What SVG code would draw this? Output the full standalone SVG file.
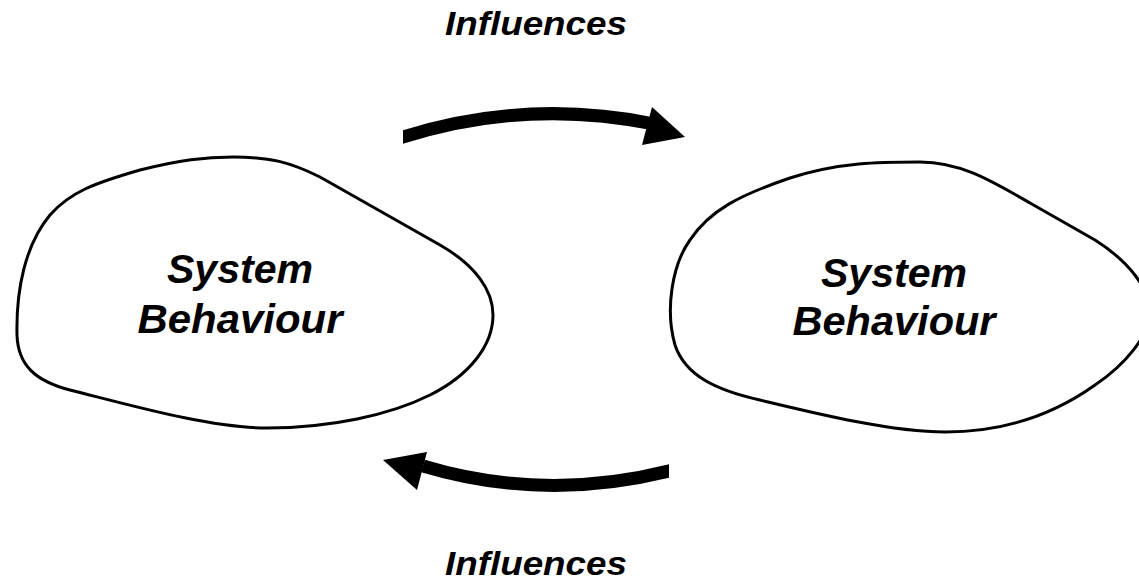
<svg xmlns="http://www.w3.org/2000/svg" width="1139" height="586" viewBox="0 0 1139 586">
  <style>
    .blob { fill: #ffffff; stroke: #000000; stroke-width: 3; stroke-linejoin: round; }
    .label { font-family: "Liberation Sans", Arial, sans-serif; font-weight: bold; font-style: italic; fill: #000000; text-anchor: middle; }
    .node-label { font-size: 41px; }
    .edge-label { font-size: 33px; }
    .shaft { fill: none; stroke: #000000; stroke-width: 13; }
    .head { fill: #000000; stroke: none; }
  </style>
  <defs>
    <!-- square off the arrow tails -->
    <clipPath id="tail-cut-forward"><rect x="403" y="80" width="300" height="90"/></clipPath>
    <clipPath id="tail-cut-back"><rect x="370" y="430" width="299" height="80"/></clipPath>
  </defs>
  <rect width="1139" height="586" fill="#ffffff"/>

  <!-- left system -->
  <g id="system-left">
    <path class="blob" d="M 233,157 C 270,157 290,162 320,177 L 440,245 C 475,265 493,290 493,315 C 493,345 470,375 430,395 C 390,415 330,428 267,428 C 210,428 130,405 70,390 C 35,381 18,365 17,335 C 16,290 25,245 50,215 C 70,192 95,183 140,170 C 180,160 205,157 233,157 Z"/>
    <text class="label node-label" x="240" y="283" textLength="146" lengthAdjust="spacingAndGlyphs">System</text>
    <text class="label node-label" x="240" y="333" textLength="205" lengthAdjust="spacingAndGlyphs">Behaviour</text>
  </g>

  <!-- right system -->
  <g id="system-right">
    <path class="blob" d="M 920,162 C 960,162 990,180 1030,203 L 1095,240 C 1130,262 1150,290 1150,312 C 1150,335 1125,365 1095,385 C 1060,410 1010,432 945,432 C 890,432 810,412 760,400 C 715,390 685,375 675,345 C 665,310 672,265 690,240 C 710,210 740,195 790,178 C 840,162 880,162 920,162 Z"/>
    <text class="label node-label" x="894" y="287" textLength="146" lengthAdjust="spacingAndGlyphs">System</text>
    <text class="label node-label" x="894" y="335" textLength="203" lengthAdjust="spacingAndGlyphs">Behaviour</text>
  </g>

  <!-- influence arrows -->
  <g id="connectors">
    <g id="influence-forward">
      <path class="shaft" clip-path="url(#tail-cut-forward)" d="M 396,139.3 Q 523,97.3 654,124"/>
      <polygon class="head" points="652,107 685,137 642,145"/>
      <text class="label edge-label" x="536" y="35" textLength="182" lengthAdjust="spacingAndGlyphs">Influences</text>
    </g>
    <g id="influence-back">
      <path class="shaft" clip-path="url(#tail-cut-back)" d="M 676,469.2 Q 547,503.2 423,466"/>
      <polygon class="head" points="427,452 383,460 417,490"/>
      <text class="label edge-label" x="536" y="575" textLength="182" lengthAdjust="spacingAndGlyphs">Influences</text>
    </g>
  </g>
</svg>
